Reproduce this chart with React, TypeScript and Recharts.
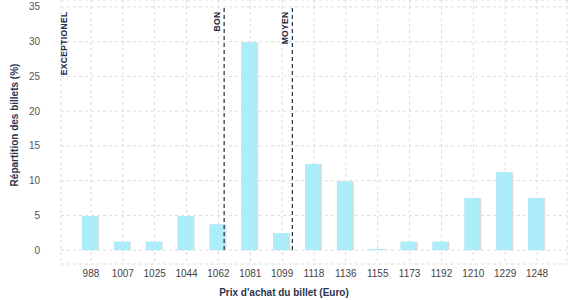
import React from "react";
import {
  BarChart,
  Bar,
  XAxis,
  YAxis,
  CartesianGrid,
  ReferenceLine,
} from "recharts";

const PRICES = [
  "988", "1007", "1025", "1044", "1062", "1081", "1099", "1118",
  "1136", "1155", "1173", "1192", "1210", "1229", "1248",
];
const SHARES = [4.9, 1.2, 1.2, 4.9, 3.7, 29.9, 2.45, 12.4, 9.9, 0.15, 1.2, 1.2, 7.5, 11.2, 7.5];
const Y_TICKS = [0, 5, 10, 15, 20, 25, 30, 35];

// position of each threshold on the category index scale (1 = first bin)
const THRESHOLD_NAMES = ["EXCEPTIONEL", "BON", "MOYEN"];
const THRESHOLD_POS = [0.37, 5.18, 7.32];
const THRESHOLD_VISIBLE = [false, true, true];

const CYAN = "#abedf8";
const NAVY = "#1f2b45";
const FONT = "'Liberation Sans', Arial, sans-serif";

const data = PRICES.map((p, i) => ({ idx: i + 1, price: p, share: SHARES[i] }));
const xTicks = data.map((d) => d.idx);

const ShadowBar = (props: any) => {
  const { x, y, width, height } = props;
  if (!height || height <= 0) return null;
  return (
    <g>
      <rect x={x} y={y} width={width} height={height} fill="#dcdcdc" />
      <rect x={x} y={y} width={width - 1.5} height={height} fill={CYAN} />
    </g>
  );
};

const ThresholdLabel = (props: any) => {
  const { viewBox, value } = props;
  if (!viewBox) return null;
  const tx = viewBox.x - 7;
  const ty = viewBox.y + 4.5;
  return (
    <text
      x={tx}
      y={ty}
      dy="0.35em"
      transform={`rotate(-90 ${tx} ${ty})`}
      textAnchor="end"
      fontFamily={FONT}
      fontSize={8.5}
      fontWeight="bold"
      letterSpacing={0.35}
      fill={NAVY}
    >
      {value}
    </text>
  );
};

const YTitle = (props: any) => {
  const { viewBox } = props;
  const cx = 14;
  const cy = viewBox.y + viewBox.height / 2 - 7;
  return (
    <text
      x={cx}
      y={cy}
      dy="0.35em"
      transform={`rotate(-90 ${cx} ${cy})`}
      textAnchor="middle"
      fontFamily={FONT}
      fontSize={10}
      fontWeight="bold"
      fill="#2a3550"
    >
      Répartition des billets (%)
    </text>
  );
};

export default function App() {
  return (
    <div style={{ position: "absolute", left: 0, top: 0, background: "#fff" }}>
      <BarChart
        width={577}
        height={300}
        data={data}
        margin={{ top: 0, right: 10, bottom: 0, left: 0 }}
      >
        <CartesianGrid strokeDasharray="3 3" stroke="#dcdcdc" />
        <XAxis
          type="number"
          dataKey="idx"
          domain={[0.06, 15.94]}
          ticks={xTicks}
          tickFormatter={(v) => PRICES[v - 1]}
          interval={0}
          height={36}
          tickLine={false}
          axisLine={false}
          tickMargin={0}
          tick={{ fontSize: 10, fill: "#444", fontFamily: FONT }}
          label={{
            value: "Prix d'achat du billet (Euro)",
            position: "insideBottom",
            offset: 4,
            dx: -30,
            style: { fontSize: 10, fontWeight: "bold", fill: "#2a3550", fontFamily: FONT },
          }}
        />
        <YAxis
          domain={[-2, 36]}
          ticks={Y_TICKS}
          width={61}
          tickLine={false}
          axisLine={false}
          tickMargin={15}
          tick={{ fontSize: 10, fill: "#555", fontFamily: FONT }}
          label={<YTitle />}
        />
        <Bar
          dataKey="share"
          barSize={17}
          shape={<ShadowBar />}
          isAnimationActive={false}
        />
        {THRESHOLD_NAMES.map((name, i) => (
          <ReferenceLine
            key={name}
            segment={[
              { x: THRESHOLD_POS[i], y: 0 },
              { x: THRESHOLD_POS[i], y: 35 },
            ]}
            stroke={THRESHOLD_VISIBLE[i] ? NAVY : "none"}
            strokeWidth={1.2}
            strokeDasharray="4 3"
            label={<ThresholdLabel value={name} />}
          />
        ))}
      </BarChart>
    </div>
  );
}
